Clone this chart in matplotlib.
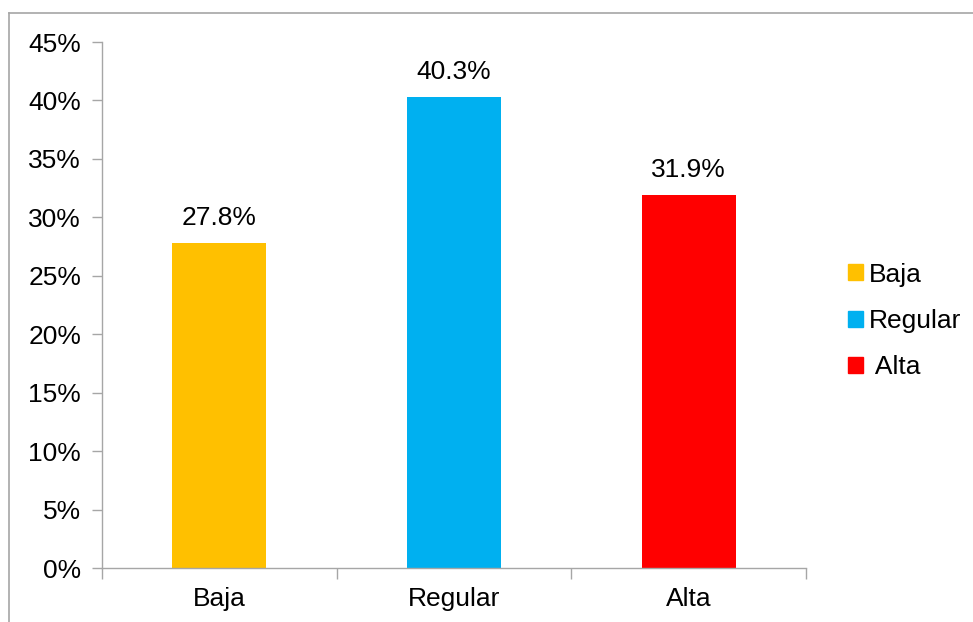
import matplotlib.pyplot as plt
from matplotlib.lines import Line2D
from matplotlib.patches import Patch

categories = ["Baja", "Regular", "Alta"]
values = [27.8, 40.3, 31.9]
legend_labels = ["Baja", "Regular", " Alta"]
colors = ["#FFC000", "#00B0F0", "#FF0000"]

plt.rcParams["font.family"] = ["Liberation Sans", "DejaVu Sans"]
fs = 19

fig = plt.figure(figsize=(9.73, 6.22), dpi=100)
ax = fig.add_axes([102 / 973, (622 - 568) / 622, (806 - 102) / 973, (568 - 42) / 622])

x = list(range(len(categories)))
ax.bar(x, values, width=0.4, color=colors)

for xi, v in zip(x, values):
    ax.annotate(f"{v:.1f}%", (xi, v), xytext=(0, 18), textcoords="offset points",
                ha="center", va="center", fontsize=fs)

ax.set_xlim(-0.5, 2.5)
ax.set_ylim(0, 45)
ax.set_yticks(range(0, 46, 5))
ax.set_yticklabels([f"{t}%" for t in range(0, 46, 5)])
ax.set_xticks([-0.5, 0.5, 1.5, 2.5])
ax.set_xticklabels([])
ax.set_xticks(x, minor=True)
ax.set_xticklabels(categories, minor=True)
ax.tick_params(axis="x", which="minor", length=0, pad=14, labelsize=fs)
ax.tick_params(axis="x", which="major", length=8, color="#A6A6A6", width=1)
ax.tick_params(axis="y", length=7, color="#A6A6A6", width=1, labelsize=fs, pad=8)

for s in ["top", "right"]:
    ax.spines[s].set_visible(False)
for s in ["left", "bottom"]:
    ax.spines[s].set_color("#A6A6A6")
    ax.spines[s].set_linewidth(1)

handles = [Patch(color=c) for c in colors]
fig.legend(handles, legend_labels, loc="center left", bbox_to_anchor=(835 / 973, 1 - 321 / 622),
           frameon=False, fontsize=fs, handlelength=0.55, handleheight=0.55,
           handletextpad=0.25, labelspacing=0.85, borderpad=0)

# chart area border (left and top)
fig.add_artist(Line2D([9 / 973, 9 / 973], [0, 1 - 13 / 622], color="#A6A6A6", lw=1.2))
fig.add_artist(Line2D([9 / 973, 1], [1 - 13 / 622, 1 - 13 / 622], color="#A6A6A6", lw=1.2))

fig.savefig("out.png", dpi=100)
